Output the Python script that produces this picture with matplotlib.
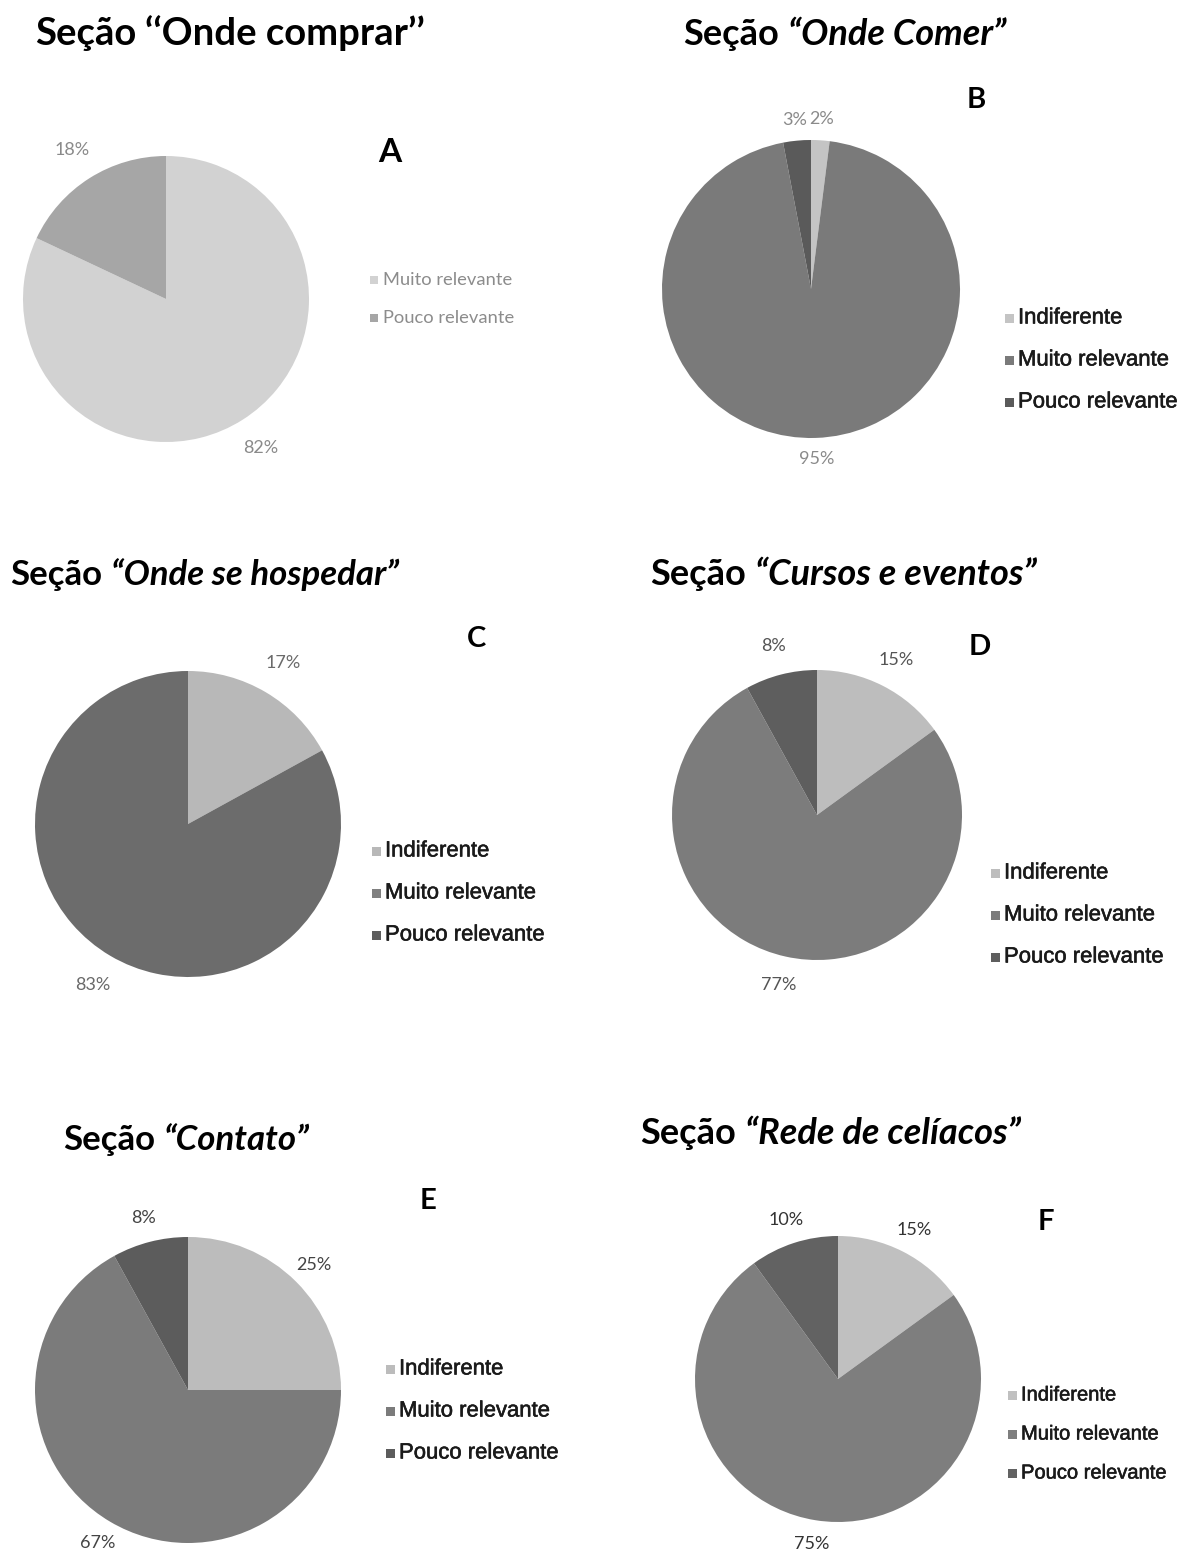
import matplotlib
matplotlib.use("Agg")
from matplotlib import pyplot as plt
from matplotlib import patheffects as pe

W, H = 1181, 1552

# --- data ---
cats3 = ["Indiferente", "Muito relevante", "Pouco relevante"]
cats_a = ["Muito relevante", "Pouco relevante"]

vals_a = [82, 18]
vals_b = [2, 95, 3]
vals_c = [17, 83]
vals_d = [15, 77, 8]
vals_e = [25, 67, 8]
vals_f = [15, 75, 10]

titles = [
    ("Seção", "‘‘Onde comprar’’", False),
    ("Seção", "“Onde Comer”", True),
    ("Seção", "“Onde se hospedar”", True),
    ("Seção", "“Cursos e eventos”", True),
    ("Seção", "“Contato”", True),
    ("Seção", "“Rede de celíacos”", True),
]
letters = ["A", "B", "C", "D", "E", "F"]

# --- styles / positions (pixels) ---
wedge_cols = [
    ["#d2d2d2", "#a6a6a6"],
    ["#c4c4c4", "#7a7a7a", "#5a5a5a"],
    ["#b8b8b8", "#6c6c6c"],
    ["#bdbdbd", "#7c7c7c", "#5e5e5e"],
    ["#bcbcbc", "#7b7b7b", "#5c5c5c"],
    ["#c0c0c0", "#7e7e7e", "#626262"],
]
leg_cols = [
    ["#d2d2d2", "#a6a6a6"],
    ["#c4c4c4", "#7a7a7a", "#5a5a5a"],
    ["#b8b8b8", "#808080", "#5e5e5e"],
    ["#bdbdbd", "#7c7c7c", "#5e5e5e"],
    ["#bcbcbc", "#7b7b7b", "#5c5c5c"],
    ["#c0c0c0", "#7e7e7e", "#626262"],
]
pies = [(166, 299, 143), (811, 289, 149), (188, 824, 153),
        (817, 815, 145), (188, 1390, 153), (838, 1379, 143)]
pct_cols = ["#8a8a8a", "#8a8a8a", "#6a6a6a", "#555555", "#444444", "#333333"]
pct_dist = [1.23, 1.14, 1.22, 1.2, 1.16, 1.17]
title_pos = [(35, 45), (683, 45), (10, 585), (650, 585), (63, 1150), (640, 1144)]
title_size = [27.5, 26, 25, 26, 25, 26]
letter_pos = [(390, 152), (976, 100), (477, 639), (980, 647), (428, 1201), (1046, 1222)]
letter_size = [24, 21, 21, 21, 21, 21]
leg_pos = [(370, 280), (1005, 318), (372, 851), (991, 873), (386, 1369), (1008, 1395)]
leg_gap = [38, 42, 42, 42, 42, 39]
leg_size = [13.2, 15.9, 15.9, 15.9, 15.9, 14.5]

all_vals = [vals_a, vals_b, vals_c, vals_d, vals_e, vals_f]

fig = plt.figure(figsize=(W / 100, H / 100), dpi=100)
fig.patch.set_facecolor("white")

for i, vals in enumerate(all_vals):
    cx, cy, r = pies[i]
    ax = fig.add_axes([(cx - r) / W, 1 - (cy + r) / H, 2 * r / W, 2 * r / H])
    ax.pie(vals, colors=wedge_cols[i], startangle=90, counterclock=False,
           autopct=lambda p: f"{p:.0f}%", pctdistance=pct_dist[i],
           textprops=dict(color=pct_cols[i], fontsize=13, family="Lato"))
    ax.set_xlim(-1, 1)
    ax.set_ylim(-1, 1)

    # legend
    labs = cats_a if i == 0 else cats3
    lx, ly = leg_pos[i]
    sq = 8 if i == 0 else 9
    for j, lab in enumerate(labs):
        yy = ly + j * leg_gap[i]
        if i == 0:
            fig.text((lx + 13) / W, 1 - yy / H, lab, fontsize=leg_size[i], family="Lato",
                     color="#8c8c8c", va="center")
        else:
            fig.text((lx + 13) / W, 1 - yy / H, lab, fontsize=leg_size[i],
                     family="Liberation Sans", color="#1a1a1a", va="center",
                     path_effects=[pe.withStroke(linewidth=0.4, foreground="#1a1a1a")])
        ax.add_patch(plt.Rectangle(((lx - cx + r) / r - 1, (cy - yy - sq / 2) / r), sq / r, sq / r,
                                   facecolor=leg_cols[i][j], edgecolor="none", clip_on=False))

    # panel letter
    lx, ly = letter_pos[i]
    fig.text(lx / W, 1 - ly / H, letters[i], fontsize=letter_size[i], fontweight="bold",
             family="Lato", ha="center", va="center")

# titles with plain + italic parts
renderer = fig.canvas.get_renderer()
for i, (plain, ital, is_it) in enumerate(titles):
    tx, ty = title_pos[i]
    t = fig.text(tx / W, 1 - ty / H, plain, fontsize=title_size[i], fontweight="bold",
                 family="Lato", va="baseline")
    bb = t.get_window_extent(renderer)
    fig.text((bb.x1 + 9) / W, 1 - ty / H, ital, fontsize=title_size[i], fontweight="bold",
             style="italic" if is_it else "normal", family="Lato", va="baseline")

fig.savefig("out.png", dpi=100)
